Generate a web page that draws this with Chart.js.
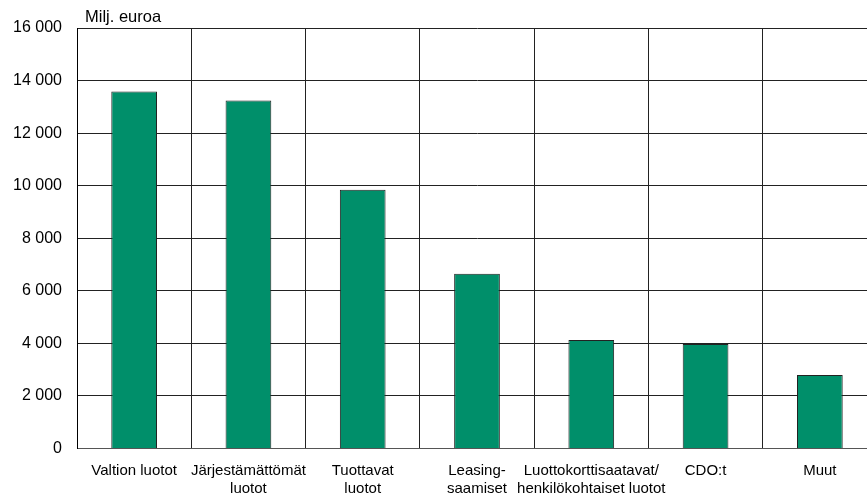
<!DOCTYPE html>
<html>
<head>
<meta charset="utf-8">
<script src="https://cdn.jsdelivr.net/npm/chart.js@4"></script>
<style>
  html, body { margin: 0; padding: 0; background: #fff; overflow: hidden; }
  #wrap { width: 867px; height: 495px; overflow: hidden; }
</style>
</head>
<body>
<div id="wrap"><canvas id="chart" width="880" height="495"></canvas></div>
<script>
const kategoriat = [
    'Valtion luotot',
    ['Järjestämättömät', 'luotot'],
    ['Tuottavat', 'luotot'],
    ['Leasing-', 'saamiset'],
    ['Luottokorttisaatavat/', 'henkilökohtaiset luotot'],
    'CDO:t',
    'Muut'
];
const arvot = [13580, 13240, 9850, 6650, 4130, 3980, 2800];
const yksikko = 'Milj. euroa';

const fontti = "'Liberation Sans', Arial, sans-serif";

// tuhaterotin välilyönnillä
function muotoile(v) {
    return String(v).replace(/\B(?=(\d{3})+(?!\d))/g, ' ');
}

const yksikkoTeksti = {
    id: 'yksikkoTeksti',
    afterDraw(chart) {
        const ctx = chart.ctx;
        ctx.save();
        ctx.font = '16.5px ' + fontti;
        ctx.fillStyle = '#000';
        ctx.textBaseline = 'middle';
        ctx.fillText(yksikko, chart.chartArea.left + 8, 17);
        ctx.restore();
    }
};

new Chart(document.getElementById('chart').getContext('2d'), {
    type: 'bar',
    data: {
        labels: kategoriat,
        datasets: [{
            data: arvot,
            backgroundColor: '#008F6A',
            borderColor: '#222',
            borderWidth: 1,
            barPercentage: 0.4,
            categoryPercentage: 1
        }]
    },
    options: {
        responsive: false,
        animation: false,
        layout: { padding: { top: 28, right: 3, left: 0, bottom: 0 } },
        plugins: {
            legend: { display: false },
            tooltip: { enabled: false }
        },
        scales: {
            x: {
                grid: { color: '#222', lineWidth: 1, drawTicks: false, offset: true },
                border: { color: '#555', width: 1 },
                ticks: {
                    color: '#000',
                    font: { family: fontti, size: 15, lineHeight: 1.15 },
                    padding: 14,
                    maxRotation: 0,
                    autoSkip: false
                },
                afterFit(scale) { scale.height = 46.5; }
            },
            y: {
                min: 0,
                max: 16000,
                grid: { color: '#222', lineWidth: 1, drawTicks: false },
                border: { color: '#000', width: 1 },
                ticks: {
                    stepSize: 2000,
                    color: '#000',
                    font: { family: fontti, size: 16 },
                    padding: 15,
                    callback: v => muotoile(v)
                },
                afterFit(scale) { scale.width = 77; }
            }
        }
    },
    plugins: [yksikkoTeksti]
});
</script>
</body>
</html>
